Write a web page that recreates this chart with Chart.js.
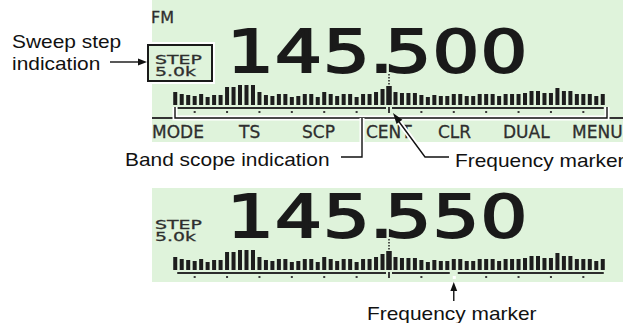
<!DOCTYPE html>
<html>
<head>
<meta charset="utf-8">
<script src="https://cdn.jsdelivr.net/npm/chart.js@4.4.0/dist/chart.umd.min.js"></script>
<style>
  html, body { margin: 0; padding: 0; background: #fff; }
  #page { position: relative; width: 623px; height: 323px; overflow: hidden; }
  .lcd { position: absolute; background: #dff3db; z-index: 0; }
  .box { position: absolute; box-sizing: border-box; border: 2px solid #1a1a1a; box-shadow: 0 0 0 2px #fff; background: #dff3db; z-index: 1; }
  .t { position: absolute; white-space: nowrap; z-index: 2; }
  .note { font-family: "Liberation Sans", Arial, sans-serif; font-size: 19px; line-height: 19px; color: #111; transform: scaleX(1.1); transform-origin: 0 0; }
  .seg { font-family: "DejaVu Sans", sans-serif; color: #2e2e2e; -webkit-text-stroke: 0.3px #2e2e2e; }
  .fm { font-size: 16px; line-height: 16px; }
  .key { font-size: 17px; line-height: 17px; }
  .step { font-size: 13px; line-height: 12px; transform: scaleX(1.45); transform-origin: 0 0; }
  .big { font-family: "DejaVu Sans", sans-serif; font-weight: normal; font-size: 58px; line-height: 58px; letter-spacing: 0.9px; color: #1a1a1a; -webkit-text-stroke: 2px #1a1a1a; transform: scaleX(1.27); transform-origin: 0 0; }
  .big .dp { letter-spacing: 0; margin-left: -1.1px; margin-right: -6.7px; }
  canvas { position: absolute; left: 0; top: 0; z-index: 3; }
</style>
</head>
<body>
<div id="page">
  <!-- LCD panels -->
  <div class="lcd" style="left:152px; top:0; width:471px; height:142px;"></div>
  <div class="lcd" style="left:152px; top:188px; width:471px; height:94px;"></div>
  <div class="box" style="left:147px; top:44px; width:66px; height:38px;"></div>

  <!-- upper display -->
  <div class="t seg fm" style="left:151px; top:10px;">FM</div>
  <div class="t big" style="left:227px; top:23px;">145<span class="dp">.</span>500</div>
  <div class="t seg step" style="left:155px; top:54px;">STEP<br>5.0k</div>
  <div class="t seg key" style="left:152px; top:124px;">MODE</div>
  <div class="t seg key" style="left:239px; top:124px;">TS</div>
  <div class="t seg key" style="left:302px; top:124px;">SCP</div>
  <div class="t seg key" style="left:366px; top:124px;">CENT</div>
  <div class="t seg key" style="left:438px; top:124px;">CLR</div>
  <div class="t seg key" style="left:503px; top:124px;">DUAL</div>
  <div class="t seg key" style="left:572px; top:124px;">MENU</div>

  <!-- lower display -->
  <div class="t big" style="left:227px; top:188px;">145<span class="dp">.</span>550</div>
  <div class="t seg step" style="left:155px; top:219px;">STEP<br>5.0k</div>

  <!-- callout texts -->
  <div class="t note" style="left:12px; top:32px;">Sweep step</div>
  <div class="t note" style="left:12px; top:54px;">indication</div>
  <div class="t note" style="left:125px; top:150px;">Band scope indication</div>
  <div class="t note" style="left:455px; top:151px;">Frequency marker</div>
  <div class="t note" style="left:367px; top:304px;">Frequency marker</div>

  <canvas id="scopeUpper" width="623" height="323"></canvas>
  <canvas id="scopeLower" width="623" height="323"></canvas>
</div>

<script>
// band scope channels, kHz away from the centre frequency (5.0k step)
const offsets = [-165,-160,-155,-150,-145,-140,-135,-130,-125,-120,-115,-110,-105,-100,-95,-90,-85,-80,
  -75,-70,-65,-60,-55,-50,-45,-40,-35,-30,-25,-20,-15,-10,-5,0,5,10,15,20,25,30,35,40,45,50,55,60,65,
  70,75,80,85,90,95,100,105,110,115,120,125,130,135,140,145,150,155,160,165];

// signal level of each channel (bar height)
const levelsUpper = [13,11,10,9,11,8,10,10,18,18,20,20,20,13,10,9,11,11,8,9,11,11,8,13,11,9,11,11,8,11,
  11,13,16,19,13,12,12,12,10,8,10,9,9,11,11,9,9,11,11,11,9,11,11,11,12,14,14,12,12,17,14,14,11,11,11,9,11];
const levelsLower = [13,11,10,9,11,8,10,10,18,18,20,20,20,13,10,9,11,11,8,9,11,11,8,13,11,9,11,11,8,11,
  11,13,16,19,13,12,12,12,10,8,10,9,9,11,11,9,9,11,11,11,9,11,11,11,12,14,14,12,12,17,14,14,11,11,11,9,11];

// channels that get a dot under the scope line
const dotChannels = [-150,-125,-100,-75,-50,-25,25,50,75,100,125,150];
const centreChannel = 0;
const markerUpper = 0;
const markerLower = 50;

const INK = '#1d1d1d';

function halo(ctx, pts) {
  ctx.beginPath();
  ctx.moveTo(pts[0][0], pts[0][1]);
  for (let i = 1; i < pts.length; i++) ctx.lineTo(pts[i][0], pts[i][1]);
  ctx.strokeStyle = '#fff';
  ctx.lineWidth = 5;
  ctx.stroke();
  ctx.strokeStyle = '#111';
  ctx.lineWidth = 1.4;
  ctx.stroke();
}

function arrowHead(ctx, tip, from, len, half) {
  const a = Math.atan2(tip[1] - from[1], tip[0] - from[0]);
  ctx.beginPath();
  ctx.moveTo(tip[0], tip[1]);
  ctx.lineTo(tip[0] - len * Math.cos(a) + half * Math.sin(a), tip[1] - len * Math.sin(a) - half * Math.cos(a));
  ctx.lineTo(tip[0] - len * Math.cos(a) - half * Math.sin(a), tip[1] - len * Math.sin(a) + half * Math.cos(a));
  ctx.closePath();
  ctx.fillStyle = '#111';
  ctx.fill();
}

// scope line, dots, centre tick and the dotted centre marker
function drawScopeRow(chart, levels, marker, dottedTop) {
  const ctx = chart.ctx;
  const x = chart.scales.x, y = chart.scales.y;
  const px = v => x.getPixelForValue(offsets.indexOf(v));
  const lineY = y.getPixelForValue(0) + 3;
  const dotY = lineY + 4;
  const c = px(centreChannel);
  const m = px(marker);

  ctx.save();
  ctx.strokeStyle = '#2b2b2b';
  ctx.lineWidth = 2;
  const gaps = [[c - 3, c + 3]];
  if (marker !== centreChannel) gaps.push([m - 4, m + 4]);
  gaps.sort((a, b) => a[0] - b[0]);
  let start = px(offsets[0]) + 2;
  const end = px(offsets[offsets.length - 1]) + 1;
  ctx.beginPath();
  gaps.forEach(g => { ctx.moveTo(start, lineY); ctx.lineTo(g[0], lineY); start = g[1]; });
  ctx.moveTo(start, lineY); ctx.lineTo(end, lineY);
  ctx.stroke();

  ctx.fillStyle = '#3a3a3a';
  dotChannels.forEach(v => {
    if (v === marker && marker !== centreChannel) return;
    ctx.fillRect(px(v) - 1, dotY - 1, 2, 2);
  });
  ctx.fillRect(c - 1, lineY - 1, 2, 6);
  if (marker !== centreChannel) {
    ctx.fillStyle = '#fff';
    ctx.fillRect(m - 1, dotY - 1, 3, 3);
  }

  // dotted marker from the decimal point down to the centre bar
  ctx.strokeStyle = '#222';
  ctx.lineWidth = 1.5;
  ctx.setLineDash([1.5, 1.5]);
  ctx.beginPath();
  ctx.moveTo(c, dottedTop);
  ctx.lineTo(c, y.getPixelForValue(levels[offsets.indexOf(centreChannel)]) - 1);
  ctx.stroke();
  ctx.restore();
  return { c, m, lineY, dotY };
}

const upperExtras = {
  id: 'upperExtras',
  afterDatasetsDraw(chart) {
    const ctx = chart.ctx;
    const r = drawScopeRow(chart, levelsUpper, markerUpper, 74);
    ctx.save();
    // LCD divider under the scope
    ctx.strokeStyle = '#333';
    ctx.lineWidth = 2;
    ctx.beginPath();
    ctx.moveTo(152, 118); ctx.lineTo(623, 118);
    ctx.stroke();
    // band scope bracket and leader
    halo(ctx, [[175, 107], [175, 118], [607, 118], [607, 107]]);
    halo(ctx, [[362, 118], [362, 157], [341, 157]]);
    // frequency marker leader
    const tip = [r.c + 4, r.dotY + 1];
    halo(ctx, [[tip[0] + 4, tip[1] + 6], [425, 157], [449, 157]]);
    arrowHead(ctx, tip, [425, 157], 11, 3.6);
    // sweep step arrow
    halo(ctx, [[110, 62], [140, 62]]);
    arrowHead(ctx, [147, 62], [110, 62], 9, 3.4);
    ctx.restore();
  }
};

const lowerExtras = {
  id: 'lowerExtras',
  afterDatasetsDraw(chart) {
    const ctx = chart.ctx;
    const r = drawScopeRow(chart, levelsLower, markerLower, 239);
    ctx.save();
    ctx.strokeStyle = '#111';
    ctx.lineWidth = 1.4;
    ctx.beginPath();
    ctx.moveTo(r.m, 289); ctx.lineTo(r.m, 301);
    ctx.stroke();
    arrowHead(ctx, [r.m, 282], [r.m, 301], 9, 3.4);
    ctx.restore();
  }
};

function makeScope(id, levels, top, plugin) {
  const centreIdx = offsets.indexOf(centreChannel);
  new Chart(document.getElementById(id), {
    type: 'bar',
    data: {
      labels: offsets,
      datasets: [
        {
          data: levels,
          backgroundColor: INK,
          borderWidth: 0,
          barPercentage: 1,
          categoryPercentage: 0.62,
          grouped: false
        },
        {
          data: levels.map((v, i) => (i === centreIdx ? v : null)),
          backgroundColor: INK,
          borderWidth: 0,
          barPercentage: 1,
          categoryPercentage: 0.85,
          grouped: false
        }
      ]
    },
    options: {
      responsive: false,
      devicePixelRatio: 1,
      animation: false,
      layout: { padding: { left: 172, right: 17, top: top, bottom: 323 - top - 26 } },
      plugins: { legend: { display: false }, tooltip: { enabled: false } },
      scales: {
        x: { display: false, grid: { display: false } },
        y: { display: false, min: 0, max: 26, grid: { display: false } }
      }
    },
    plugins: [plugin]
  });
}

makeScope('scopeUpper', levelsUpper, 79, upperExtras);
makeScope('scopeLower', levelsLower, 244, lowerExtras);
</script>
</body>
</html>
